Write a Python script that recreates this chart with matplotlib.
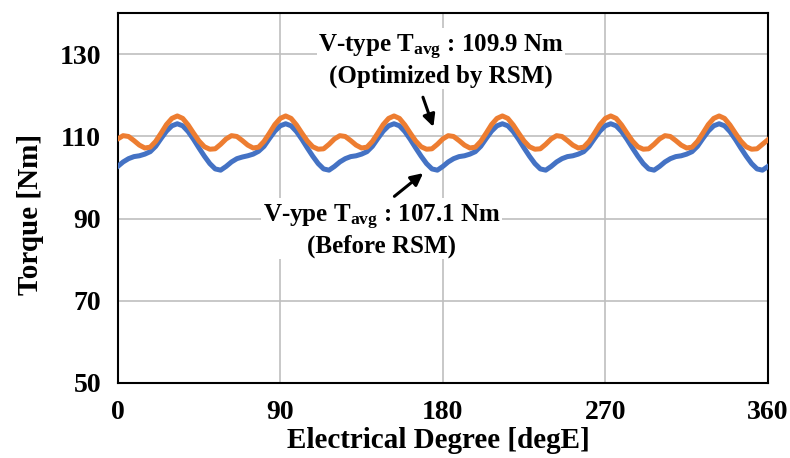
import numpy as np
import matplotlib
matplotlib.use("Agg")
import matplotlib.pyplot as plt

plt.rcParams['font.family'] = ['Liberation Serif', 'DejaVu Serif']
plt.rcParams['font.weight'] = 'bold'
plt.rcParams['mathtext.fontset'] = 'custom'
plt.rcParams['mathtext.rm'] = 'Liberation Serif:bold'
plt.rcParams['mathtext.it'] = 'Liberation Serif:bold'
plt.rcParams['mathtext.bf'] = 'Liberation Serif:bold'

# electrical angle, 3 degE step
angle = np.arange(0, 361, 3)

before_rsm = [
    102.7, 103.8, 104.6, 105.1, 105.3, 105.7, 106.3, 107.6, 109.5, 111.3,
    112.6, 113.1, 112.6, 111.2, 109.3, 107.2, 105.2, 103.4, 102.1, 101.8,
    102.7, 103.8, 104.6, 105.0, 105.3, 105.7, 106.4, 107.6, 109.5, 111.3,
    112.6, 113.1, 112.6, 111.2, 109.3, 107.2, 105.2, 103.4, 102.1, 101.8,
    102.7, 103.8, 104.6, 105.1, 105.3, 105.7, 106.3, 107.6, 109.5, 111.3,
    112.6, 113.1, 112.6, 111.2, 109.3, 107.2, 105.2, 103.4, 102.1, 101.8,
    102.7, 103.8, 104.6, 105.1, 105.3, 105.7, 106.3, 107.6, 109.5, 111.3,
    112.6, 113.1, 112.6, 111.2, 109.3, 107.2, 105.2, 103.4, 102.1, 101.8,
    102.7, 103.8, 104.6, 105.1, 105.3, 105.7, 106.3, 107.6, 109.5, 111.3,
    112.6, 113.1, 112.6, 111.2, 109.3, 107.2, 105.2, 103.4, 102.1, 101.8,
    102.7, 103.8, 104.6, 105.1, 105.3, 105.7, 106.3, 107.6, 109.5, 111.3,
    112.6, 113.1, 112.6, 111.2, 109.3, 107.2, 105.2, 103.4, 102.1, 101.8,
    102.7,
]

optimized = [
    109.4, 110.2, 110.0, 109.0, 107.9, 107.2, 107.4, 108.8, 110.8, 112.9,
    114.4, 115.0, 114.4, 112.8, 110.8, 108.9, 107.5, 106.9, 107.0, 108.1,
    109.4, 110.2, 110.0, 109.0, 107.9, 107.2, 107.4, 108.8, 110.8, 112.9,
    114.4, 115.0, 114.4, 112.8, 110.8, 108.9, 107.5, 106.9, 107.0, 108.1,
    109.4, 110.2, 110.0, 109.0, 107.9, 107.2, 107.4, 108.8, 110.8, 112.9,
    114.4, 115.0, 114.4, 112.8, 110.8, 108.9, 107.5, 106.9, 107.0, 108.1,
    109.4, 110.2, 110.0, 109.0, 107.9, 107.2, 107.4, 108.8, 110.8, 112.9,
    114.4, 115.0, 114.4, 112.8, 110.8, 108.9, 107.5, 106.9, 107.0, 108.1,
    109.4, 110.2, 110.0, 109.0, 107.9, 107.2, 107.4, 108.8, 110.8, 112.9,
    114.4, 115.0, 114.4, 112.8, 110.8, 108.9, 107.5, 106.9, 107.0, 108.1,
    109.4, 110.2, 110.0, 109.0, 107.9, 107.2, 107.4, 108.8, 110.8, 112.9,
    114.4, 115.0, 114.4, 112.8, 110.8, 108.9, 107.5, 106.9, 107.0, 108.1,
    109.2,
]

xticks = [0, 90, 180, 270, 360]
yticks = [50, 70, 90, 110, 130]

fig = plt.figure(figsize=(7.9, 4.58), dpi=100)
ax = fig.add_axes([0.149, 0.164, 0.823, 0.807])

ax.plot(angle, before_rsm, color='#4472C4', lw=3.6, solid_joinstyle='round', zorder=3)
ax.plot(angle, optimized, color='#ED7D31', lw=3.6, solid_joinstyle='round', zorder=4)

ax.set_xlim(0, 360)
ax.set_ylim(50, 140)
ax.set_xticks(xticks)
ax.set_yticks(yticks)
ax.grid(True, color='#BFBFBF', lw=1.2)
ax.set_axisbelow(True)
ax.tick_params(length=0, labelsize=20)
ax.tick_params(axis='y', pad=12)
ax.tick_params(axis='x', pad=12)
for s in ax.spines.values():
    s.set_color('black')
    s.set_linewidth(1.5)

ax.set_xlabel('Electrical Degree [degE]', fontsize=21, fontweight='bold')
ax.set_ylabel('Torque [Nm]', fontsize=21, fontweight='bold')
ax.xaxis.set_label_coords(0.493, -0.12)
ax.yaxis.set_label_coords(-0.114, 0.457)

box = dict(facecolor='white', edgecolor='none', pad=1)
ax.text(179, 128.5, 'V-type T$_{\\mathrm{avg}}$ : 109.9 Nm\n(Optimized by RSM)',
        ha='center', va='center', fontsize=18, fontweight='bold',
        linespacing=1.1, bbox=box, zorder=5)
ax.text(146, 87.1, 'V-ype T$_{\\mathrm{avg}}$ : 107.1 Nm\n(Before RSM)',
        ha='center', va='center', fontsize=18, fontweight='bold',
        linespacing=1.1, bbox=box, zorder=5)

ax.annotate('', xy=(175.3, 111.7), xytext=(168.5, 120.2),
            arrowprops=dict(arrowstyle='-|>', color='black', lw=2.2, mutation_scale=18), zorder=6)
ax.annotate('', xy=(170.3, 101.5), xytext=(152, 95.0),
            arrowprops=dict(arrowstyle='-|>', color='black', lw=2.2, mutation_scale=18), zorder=6)

fig.savefig('out.png', dpi=100)
